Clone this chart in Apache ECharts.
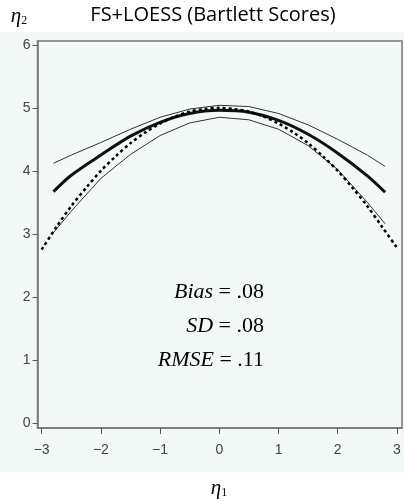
<!DOCTYPE html>
<html><head><meta charset="utf-8">
<script src="https://cdn.jsdelivr.net/npm/echarts@6/dist/echarts.min.js"></script>
<style>html,body{margin:0;padding:0;background:#fff}#c{width:404px;height:501px}</style>
</head><body><div id="c"></div>
<script>
var xs = [-2.8, -2.5, -2, -1.5, -1, -0.5, 0, 0.5, 1, 1.5, 2, 2.5, 2.8];
var upperCI = [4.12, 4.25, 4.45, 4.66, 4.85, 4.98, 5.04, 5.02, 4.91, 4.73, 4.50, 4.25, 4.07];
var estimate = [3.67, 3.93, 4.25, 4.55, 4.77, 4.91, 4.96, 4.93, 4.80, 4.58, 4.28, 3.92, 3.66];
var lowerCI = [3.02, 3.36, 3.88, 4.26, 4.56, 4.76, 4.85, 4.81, 4.66, 4.40, 4.02, 3.50, 3.16];
var trueX = [-3, -2.75, -2.5, -2.25, -2, -1.75, -1.5, -1.25, -1, -0.75, -0.5, -0.25, 0, 0.25, 0.5, 0.75, 1, 1.25, 1.5, 1.75, 2, 2.25, 2.5, 2.75, 3];
var trueY = [2.75, 3.11, 3.44, 3.73, 4.00, 4.23, 4.44, 4.61, 4.75, 4.86, 4.94, 4.98, 5.00, 4.98, 4.94, 4.86, 4.75, 4.61, 4.44, 4.23, 4.00, 3.73, 3.44, 3.11, 2.78];
var xTicks = [-3, -2, -1, 0, 1, 2, 3];
var yTicks = [0, 1, 2, 3, 4, 5, 6];
var stats = [['Bias', '.08'], ['SD', '.08'], ['RMSE', '.11']];

function pairs(a, b) { return a.map(function (v, i) { return [v, b[i]]; }); }

var chart = echarts.init(document.getElementById('c'));
var thin = {color: '#333', width: 1};
var statY = [292, 326, 360];
var statText = stats.map(function (s, i) {
  return {
    type: 'text', x: 264, y: statY[i], z: 10,
    style: {
      text: '{i|' + s[0] + ' }{n|= ' + s[1] + '}',
      textAlign: 'right', textVerticalAlign: 'middle',
      rich: {
        i: {fontFamily: 'Liberation Serif', fontStyle: 'italic', fontSize: 22, fill: '#000'},
        n: {fontFamily: 'Liberation Serif', fontSize: 22, fill: '#000'}
      }
    }
  };
});
var axisCol = '#777';
chart.setOption({
  backgroundColor: '#fff',
  animation: false,
  graphic: [
    {type: 'rect', shape: {x: 0, y: 32, width: 404, height: 440}, style: {fill: '#f3f9f6'}, z: -10, silent: true},
    {type: 'text', x: 213, y: 15, style: {text: 'FS+LOESS (Bartlett Scores)', fontFamily: 'Open Sans', fontSize: 20, fill: '#000', textAlign: 'center', textVerticalAlign: 'middle'}},
    {type: 'text', x: 19, y: 16, style: {text: '{a|η}{b|2}', rich: {a: {fontFamily: 'Liberation Serif', fontStyle: 'italic', fontSize: 21, fill: '#000'}, b: {fontFamily: 'Liberation Serif', fontSize: 12, fill: '#000', padding: [9, 0, 0, 0]}}, textAlign: 'center', textVerticalAlign: 'middle'}},
    {type: 'text', x: 219, y: 488, style: {text: '{a|η}{b|1}', rich: {a: {fontFamily: 'Liberation Serif', fontStyle: 'italic', fontSize: 21, fill: '#000'}, b: {fontFamily: 'Liberation Serif', fontSize: 12, fill: '#000', padding: [9, 0, 0, 0]}}, textAlign: 'center', textVerticalAlign: 'middle'}}
  ].concat(statText),
  grid: {left: 37.5, right: 2, top: 41, bottom: 73, show: true, borderColor: axisCol, borderWidth: 1.5, backgroundColor: 'transparent'},
  xAxis: {
    type: 'value', min: -3.07, max: 3.085,
    axisLine: {show: true, onZero: false, lineStyle: {color: axisCol, width: 1.5}},
    splitLine: {show: false},
    axisTick: {show: true, length: 6, lineStyle: {color: '#555'}, customValues: xTicks},
    axisLabel: {customValues: xTicks, fontFamily: 'Liberation Sans', fontSize: 14, color: '#444', margin: 15,
      formatter: function (v) { return v < 0 ? '\u2212' + Math.abs(v) : String(v); }}
  },
  yAxis: {
    type: 'value', min: -0.08, max: 6.06, position: 'left',
    axisLine: {show: true, onZero: false, lineStyle: {color: axisCol, width: 1.5}},
    splitLine: {show: false},
    axisTick: {show: true, length: 5, lineStyle: {color: '#555'}, customValues: yTicks},
    axisLabel: {customValues: yTicks, fontFamily: 'Liberation Sans', fontSize: 14, color: '#444', margin: 7}
  },
  series: [
    {type: 'line', data: pairs(xs, upperCI), showSymbol: false, lineStyle: thin, z: 3},
    {type: 'line', data: pairs(xs, lowerCI), showSymbol: false, lineStyle: thin, z: 3},
    {type: 'line', data: pairs(xs, estimate), showSymbol: false, smooth: 0.3, lineStyle: {color: '#111', width: 3}, z: 4},
    {type: 'line', data: pairs(trueX, trueY), showSymbol: false, smooth: 0.3, lineStyle: {color: '#000', width: 2.5, type: [3, 3]}, z: 5}
  ]
});
</script></body></html>
